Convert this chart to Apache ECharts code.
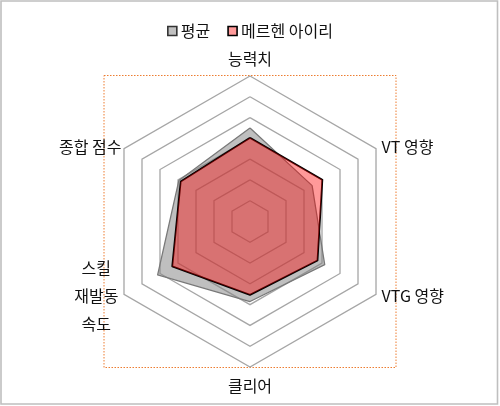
<!DOCTYPE html>
<html>
<head>
<meta charset="utf-8">
<script src="https://cdn.jsdelivr.net/npm/echarts@6/dist/echarts.min.js"></script>
<style>
html,body{margin:0;padding:0;background:#fff;}
#c{width:500px;height:406px;}
</style>
</head>
<body>
<div id="c"></div>
<script>
// Data
const indicators = ['능력치', '종합 점수', '스킬 재발동 속도', '클리어', 'VTG 영향', 'VT 영향'];
const maxValue = 7;
const seriesNames = ['평균', '메르헨 아이리'];
const avgValues = [4.5, 3.95, 5.13, 3.85, 4.15, 3.45];
const airiValues = [4.03, 3.85, 4.32, 3.53, 3.75, 4.02];

const FONT = '"Noto Sans CJK KR", "Noto Sans", sans-serif';
const TXT = '#111';
const FS = 16;

const chart = echarts.init(document.getElementById('c'), null, {renderer: 'canvas'});

function fmtName(name) {
  if (name === '능력치') return '{t|' + name + '}';
  if (name === '클리어') return '{b|' + name + '}';
  if (name.indexOf('VT') === 0) return '{r|' + name + '}';
  if (name === '스킬 재발동 속도') return name.split(' ').map(s => '{m|' + s + '}').join('\n');
  return '{l|' + name + '}';
}

const base = {fontFamily: FONT, fontSize: FS, color: TXT};

chart.setOption({
  animation: false,
  backgroundColor: '#fff',
  graphic: [
    {type: 'rect', shape: {x: 1, y: 1, width: 496.5, height: 403}, style: {fill: 'none', stroke: '#bfbfbf', lineWidth: 1.6}, silent: true},
    {type: 'rect', shape: {x: 104, y: 75.5, width: 292, height: 292}, style: {fill: 'none', stroke: '#ED7D31', lineWidth: 1, lineDash: [1.5, 1.5]}, silent: true, z: -1}
  ],
  legend: {
    top: 18,
    left: 'center',
    itemWidth: 9,
    itemHeight: 9,
    itemGap: 17,
    icon: 'rect',
    textStyle: {fontFamily: FONT, fontSize: FS, color: TXT, padding: [0, 0, 0, -1]},
    data: [
      {name: seriesNames[0], itemStyle: {color: '#c0c0c0', borderColor: '#333', borderWidth: 1.6}},
      {name: seriesNames[1], itemStyle: {color: '#ff9a9a', borderColor: '#000', borderWidth: 1.6}}
    ]
  },
  radar: {
    center: [250, 221.5],
    radius: 145.5,
    startAngle: 90,
    splitNumber: 7,
    shape: 'polygon',
    nameGap: 3,
    indicator: indicators.map(n => ({name: n, min: 0, max: maxValue})),
    axisName: {
      formatter: fmtName,
      fontFamily: FONT, fontSize: FS, color: TXT,
      rich: {
        t: Object.assign({padding: [0, 0, 6, 0]}, base),
        b: Object.assign({padding: [8, 0, 0, 0]}, base),
        r: Object.assign({padding: [0, 0, 0, 3]}, base),
        l: Object.assign({padding: [0, 0, 0, 0]}, base),
        m: Object.assign({align: 'center', lineHeight: 28, padding: [0, 3, 0, 0]}, base)
      }
    },
    splitLine: {lineStyle: {color: '#a6a6a6', width: 1.3}},
    splitArea: {show: false},
    axisLine: {show: false},
    axisTick: {show: false},
    axisLabel: {show: false}
  },
  series: [
    {
      type: 'radar',
      symbol: 'none',
      data: [
        {
          name: seriesNames[0],
          value: avgValues,
          lineStyle: {color: '#777', width: 1.3},
          areaStyle: {color: 'rgba(128,128,128,0.5)', opacity: 1},
          itemStyle: {color: '#c0c0c0'}
        },
        {
          name: seriesNames[1],
          value: airiValues,
          lineStyle: {color: '#000', width: 1.8},
          areaStyle: {color: 'rgba(255,0,0,0.4)', opacity: 1},
          itemStyle: {color: '#ff9a9a'}
        }
      ]
    }
  ]
});
</script>
</body>
</html>
